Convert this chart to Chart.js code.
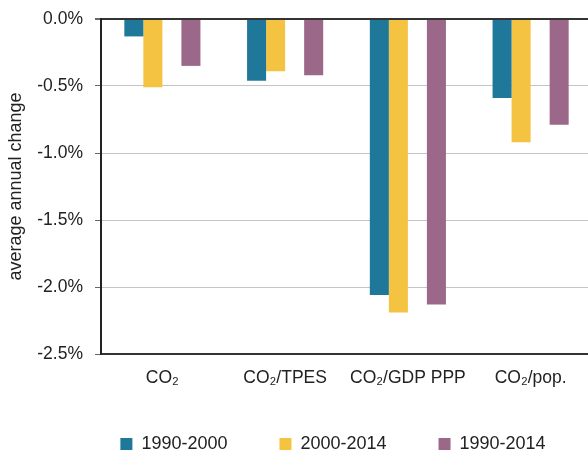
<!DOCTYPE html>
<html>
<head>
<meta charset="utf-8">
<script src="https://cdn.jsdelivr.net/npm/chart.js@4"></script>
<style>
  html, body { margin: 0; padding: 0; background: #fff; overflow: hidden; }
  #wrap { width: 592px; height: 457px; }
</style>
</head>
<body>
<div id="wrap"><canvas id="chart" width="592" height="457"></canvas></div>
<script>
// values, in % per year
const categories = ['CO\u2082', 'CO\u2082/TPES', 'CO\u2082/GDP PPP', 'CO\u2082/pop.'];
const seriesNames = ['1990-2000', '2000-2014', '1990-2014'];
const change1990_2000 = [-0.13, -0.46, -2.06, -0.59];
const change2000_2014 = [-0.51, -0.39, -2.19, -0.92];
const change1990_2014 = [-0.35, -0.42, -2.13, -0.79];
const yTicks = [0, -0.5, -1.0, -1.5, -2.0, -2.5];

const colors = ['#1f7899', '#f5c342', '#9b6889'];
const font = 'Liberation Sans, Arial, sans-serif';
const textColor = '#222';

// moves the legend so it sits under the plot like in the original
const legendShift = {
    id: 'legendShift',
    afterLayout(chart) {
        const l = chart.legend;
        l.left += 37;
        l.right += 37;
        l.top -= 11;
        if (l.adjustHitBoxes) l.adjustHitBoxes();
    }
};

new Chart(document.getElementById('chart'), {
    type: 'bar',
    data: {
        labels: categories,
        datasets: [
            { label: seriesNames[0], data: change1990_2000, backgroundColor: colors[0] },
            { label: seriesNames[1], data: change2000_2014, backgroundColor: colors[1] },
            // empty slot, the original leaves a gap before the last series
            { label: '', data: categories.map(() => null) },
            { label: seriesNames[2], data: change1990_2014, backgroundColor: colors[2] }
        ]
    },
    options: {
        responsive: false,
        animation: false,
        layout: { padding: { top: 19, right: 0, bottom: 3, left: 0 } },
        categoryPercentage: 0.62,
        barPercentage: 1,
        plugins: {
            tooltip: { enabled: false },
            legend: {
                position: 'bottom',
                maxHeight: 60,
                labels: {
                    filter: item => item.text !== '',
                    boxWidth: 12,
                    boxHeight: 12,
                    padding: 52,
                    color: textColor,
                    font: { family: font, size: 18 }
                }
            }
        },
        scales: {
            x: {
                grid: { display: false, drawTicks: false },
                border: { display: true, color: '#333', width: 2 },
                ticks: {
                    color: textColor,
                    padding: 14,
                    maxRotation: 0,
                    minRotation: 0,
                    autoSkip: false,
                    font: { family: font, size: 17.5 }
                },
                afterFit(axis) { axis.height = 40; }
            },
            y: {
                min: -2.5,
                max: 0,
                afterBuildTicks(axis) { axis.ticks = yTicks.map(v => ({ value: v })); },
                grid: {
                    color: ctx => ctx.tick && ctx.tick.value === 0 ? '#333' : '#c4c4c4',
                    lineWidth: ctx => ctx.tick && ctx.tick.value === 0 ? 2 : 1,
                    tickColor: '#666',
                    tickLength: 6
                },
                border: { display: true, color: '#222', width: 2 },
                ticks: {
                    color: textColor,
                    padding: 12,
                    font: { family: font, size: 17.5 },
                    callback: v => v.toFixed(1) + '%'
                },
                title: {
                    display: true,
                    text: 'average annual change',
                    color: textColor,
                    padding: { top: 5, bottom: 0 },
                    font: { family: font, size: 18 }
                },
                afterFit(axis) {
                    axis.width = 101;
                    axis.paddingTop = 0;
                }
            }
        }
    },
    plugins: [legendShift]
});
</script>
</body>
</html>
